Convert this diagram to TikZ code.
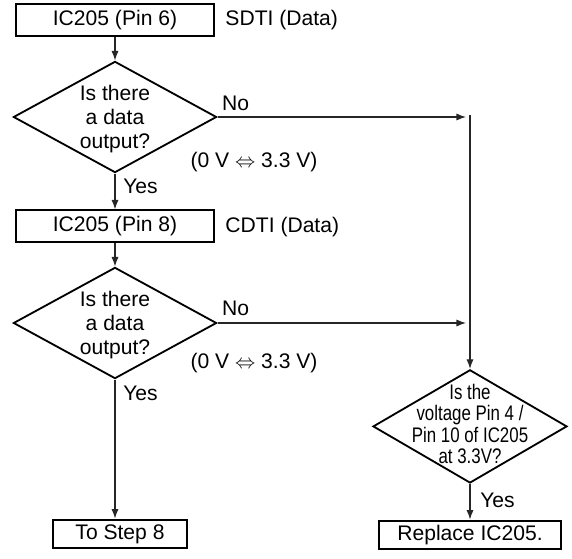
\documentclass[tikz,border=0pt]{standalone}
\usepackage{fontspec}
\setmainfont{Liberation Sans}
\newfontfamily\narrowsans[FakeStretch=0.8]{Liberation Sans}
\usetikzlibrary{positioning,shapes.geometric,arrows.meta}

\begin{document}
\begin{tikzpicture}[
    every node/.style={font=\fontsize{15}{17}\selectfont},
    stepbox/.style={rectangle, draw, line width=1.4pt, inner sep=0pt, minimum width=4.95cm, minimum height=0.8cm},
    decision/.style={diamond, draw, line width=1.3pt, inner sep=0pt, minimum width=5.08cm, minimum height=2.78cm},
    question/.style={align=center, inner sep=0pt},
    answer/.style={anchor=base west, inner sep=0pt},
    flow/.style={draw=black!85, line width=0.85pt, -{Latex[length=2.4mm,width=1.8mm]}}
  ]
    \useasboundingbox (0,0) rectangle (14.3,-13.95);

    % Pin 6
    \node[stepbox] (b1) at (2.875,-0.5) {IC205 (Pin 6)};
    \node[anchor=west, inner sep=0pt] (s1) at (5.63,-0.5) {SDTI (Data)};
    \node[decision] (d1) at (2.875,-2.925) {};
    \node[question] (q1) at (2.875,-2.98) {Is there\\a data\\output?};
    \node[answer] (n1) at ([xshift=0.11cm,yshift=0.17cm]d1.east) {No};
    \node (v1) at (6.35,-4.05) {(0 V $\Leftrightarrow$ 3.3 V)};
    \node[answer] (y1) at ([xshift=0.2cm,yshift=-0.5cm]d1.south) {Yes};

    % Pin 8
    \node[stepbox] (b2) at (2.875,-5.66) {IC205 (Pin 8)};
    \node[anchor=west, inner sep=0pt] (s2) at (5.63,-5.68) {CDTI (Data)};
    \node[decision] (d2) at (2.875,-8.075) {};
    \node[question] (q2) at (2.875,-8.13) {Is there\\a data\\output?};
    \node[answer] (n2) at ([xshift=0.11cm,yshift=0.19cm]d2.east) {No};
    \node (v2) at (6.35,-9.075) {(0 V $\Leftrightarrow$ 3.3 V)};
    \node[answer] (y2) at ([xshift=0.2cm,yshift=-0.52cm]d2.south) {Yes};
    \node[stepbox, minimum width=3.35cm, minimum height=0.72cm] (b3) at (3.0,-13.35) {To Step 8};

    % Supply check
    \coordinate (top) at (11.75,-2.87);
    \node[decision, minimum width=4.85cm, minimum height=2.83cm] (d3) at (11.75,-10.66) {};
    \node[question, font=\narrowsans\fontsize{15}{15}\selectfont] (q3) at (11.75,-10.6)
      {Is the\\voltage Pin 4 /\\Pin 10 of IC205\\at 3.3V?};
    \node[answer] (y3) at ([xshift=0.25cm,yshift=-0.58cm]d3.south) {Yes};
    \node[stepbox, minimum width=4.55cm, minimum height=0.72cm] (b4) at (11.75,-13.375) {Replace IC205.};

    % Connectors
    \draw[flow] (b1) -- (d1);
    \draw[flow] (d1) -- (b2);
    \draw[flow] (b2) -- (d2);
    \draw[flow] (d2.south) -- (d2.south |- b3.north);
    \draw[flow, shorten >=0.1cm] (d1.east) -- (d1.east -| top);
    \draw[flow, shorten >=0.1cm] (d2.east) -- (d2.east -| top);
    \draw[flow] (top) -- (d3.north);
    \draw[flow] (d3) -- (b4);
\end{tikzpicture}
\end{document}
